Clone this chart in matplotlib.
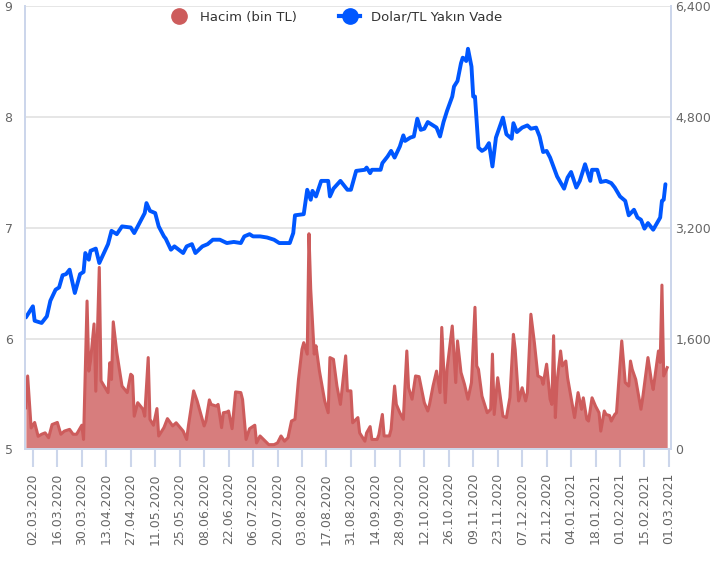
import pandas as pd
import matplotlib
matplotlib.use("Agg")
import matplotlib.pyplot as plt
import matplotlib.dates as mdates
from matplotlib.lines import Line2D
from matplotlib.ticker import FuncFormatter

# Dolar/TL yakin vade (sol eksen)
dolar_tarih = [
    "2020-02-27", "2020-03-02", "2020-03-03", "2020-03-07", "2020-03-10", "2020-03-12", "2020-03-15",
    "2020-03-17", "2020-03-19", "2020-03-21", "2020-03-23", "2020-03-26", "2020-03-29", "2020-03-31",
    "2020-04-01", "2020-04-03", "2020-04-04", "2020-04-07", "2020-04-09", "2020-04-14", "2020-04-16",
    "2020-04-19", "2020-04-22", "2020-04-27", "2020-04-29", "2020-05-05", "2020-05-06", "2020-05-08",
    "2020-05-11", "2020-05-13", "2020-05-16", "2020-05-17", "2020-05-20", "2020-05-22", "2020-05-27",
    "2020-05-29", "2020-06-01", "2020-06-03", "2020-06-07", "2020-06-10", "2020-06-13", "2020-06-17",
    "2020-06-21", "2020-06-25", "2020-06-29", "2020-07-01", "2020-07-04", "2020-07-06", "2020-07-10",
    "2020-07-14", "2020-07-18", "2020-07-21", "2020-07-27", "2020-07-29", "2020-07-30", "2020-08-04",
    "2020-08-06", "2020-08-08", "2020-08-09", "2020-08-11", "2020-08-14", "2020-08-18", "2020-08-19",
    "2020-08-21", "2020-08-25", "2020-08-29", "2020-08-31", "2020-09-03", "2020-09-08", "2020-09-09",
    "2020-09-11", "2020-09-12", "2020-09-17", "2020-09-18", "2020-09-21", "2020-09-23", "2020-09-25",
    "2020-09-28", "2020-09-30", "2020-10-01", "2020-10-04", "2020-10-06", "2020-10-08", "2020-10-10",
    "2020-10-12", "2020-10-14", "2020-10-16", "2020-10-19", "2020-10-21", "2020-10-23", "2020-10-25",
    "2020-10-28", "2020-10-29", "2020-10-31", "2020-11-02", "2020-11-03", "2020-11-04", "2020-11-05",
    "2020-11-06", "2020-11-08", "2020-11-09", "2020-11-10", "2020-11-12", "2020-11-14", "2020-11-16",
    "2020-11-18", "2020-11-20", "2020-11-22", "2020-11-26", "2020-11-28", "2020-12-01", "2020-12-02",
    "2020-12-04", "2020-12-07", "2020-12-10", "2020-12-12", "2020-12-15", "2020-12-17", "2020-12-19",
    "2020-12-21", "2020-12-23", "2020-12-27", "2020-12-31", "2021-01-02", "2021-01-04", "2021-01-07",
    "2021-01-09", "2021-01-12", "2021-01-15", "2021-01-16", "2021-01-19", "2021-01-21", "2021-01-24",
    "2021-01-27", "2021-01-29", "2021-02-01", "2021-02-04", "2021-02-06", "2021-02-09", "2021-02-11",
    "2021-02-13", "2021-02-15", "2021-02-17", "2021-02-20", "2021-02-24", "2021-02-25", "2021-02-26",
    "2021-02-27",
]
dolar = [
    6.19, 6.29, 6.16, 6.14, 6.20, 6.34, 6.44,
    6.46, 6.57, 6.58, 6.62, 6.41, 6.58, 6.60,
    6.77, 6.71, 6.79, 6.81, 6.68, 6.85, 6.97,
    6.94, 7.01, 7.00, 6.95, 7.13, 7.22, 7.15,
    7.13, 7.01, 6.92, 6.90, 6.80, 6.83, 6.77,
    6.83, 6.85, 6.77, 6.83, 6.85, 6.89, 6.89,
    6.86, 6.87, 6.86, 6.92, 6.94, 6.92, 6.92,
    6.91, 6.89, 6.86, 6.86, 6.95, 7.11, 7.12,
    7.34, 7.25, 7.33, 7.28, 7.42, 7.42, 7.28,
    7.35, 7.42, 7.34, 7.34, 7.51, 7.52, 7.54,
    7.49, 7.52, 7.52, 7.58, 7.64, 7.69, 7.63,
    7.73, 7.83, 7.78, 7.81, 7.82, 7.98, 7.88,
    7.89, 7.95, 7.93, 7.90, 7.82, 7.95, 8.05,
    8.18, 8.27, 8.32, 8.48, 8.53, 8.52, 8.50,
    8.61, 8.45, 8.18, 8.18, 7.72, 7.69, 7.71,
    7.76, 7.55, 7.81, 7.99, 7.84, 7.80, 7.94,
    7.86, 7.90, 7.92, 7.89, 7.90, 7.82, 7.68,
    7.69, 7.63, 7.46, 7.35, 7.45, 7.50, 7.36,
    7.42, 7.57, 7.42, 7.52, 7.52, 7.41, 7.42,
    7.40, 7.36, 7.28, 7.24, 7.11, 7.16, 7.09,
    7.07, 6.99, 7.04, 6.98, 7.09, 7.24, 7.25,
    7.39,
]

# Hacim (bin TL) (sag eksen)
hacim_tarih = [
    "2020-02-27", "2020-02-28", "2020-03-01", "2020-03-03", "2020-03-05", "2020-03-07", "2020-03-09",
    "2020-03-11", "2020-03-13", "2020-03-16", "2020-03-18", "2020-03-20", "2020-03-23", "2020-03-25",
    "2020-03-27", "2020-03-30", "2020-03-31", "2020-04-02", "2020-04-03", "2020-04-04", "2020-04-06",
    "2020-04-07", "2020-04-09", "2020-04-10", "2020-04-14", "2020-04-15", "2020-04-16", "2020-04-17",
    "2020-04-19", "2020-04-22", "2020-04-25", "2020-04-27", "2020-04-28", "2020-04-29", "2020-05-01",
    "2020-05-04", "2020-05-05", "2020-05-07", "2020-05-08", "2020-05-10", "2020-05-12", "2020-05-13",
    "2020-05-16", "2020-05-18", "2020-05-21", "2020-05-23", "2020-05-27", "2020-05-29", "2020-05-30",
    "2020-06-02", "2020-06-04", "2020-06-08", "2020-06-09", "2020-06-11", "2020-06-12", "2020-06-15",
    "2020-06-16", "2020-06-18", "2020-06-19", "2020-06-21", "2020-06-22", "2020-06-24", "2020-06-26",
    "2020-06-29", "2020-06-30", "2020-07-02", "2020-07-04", "2020-07-07", "2020-07-08", "2020-07-10",
    "2020-07-13", "2020-07-15", "2020-07-18", "2020-07-20", "2020-07-22", "2020-07-24", "2020-07-26",
    "2020-07-28", "2020-07-30", "2020-08-01", "2020-08-03", "2020-08-04", "2020-08-06", "2020-08-07",
    "2020-08-08", "2020-08-10", "2020-08-11", "2020-08-13", "2020-08-16", "2020-08-18", "2020-08-19",
    "2020-08-21", "2020-08-23", "2020-08-25", "2020-08-28", "2020-08-29", "2020-08-31", "2020-09-01",
    "2020-09-04", "2020-09-05", "2020-09-08", "2020-09-09", "2020-09-11", "2020-09-12", "2020-09-15",
    "2020-09-16", "2020-09-18", "2020-09-19", "2020-09-22", "2020-09-23", "2020-09-25", "2020-09-26",
    "2020-09-28", "2020-09-30", "2020-10-02", "2020-10-03", "2020-10-05", "2020-10-07", "2020-10-09",
    "2020-10-12", "2020-10-14", "2020-10-15", "2020-10-17", "2020-10-19", "2020-10-21", "2020-10-22",
    "2020-10-24", "2020-10-25", "2020-10-28", "2020-10-30", "2020-10-31", "2020-11-02", "2020-11-04",
    "2020-11-06", "2020-11-08", "2020-11-10", "2020-11-11", "2020-11-12", "2020-11-14", "2020-11-17",
    "2020-11-19", "2020-11-20", "2020-11-21", "2020-11-23", "2020-11-26", "2020-11-28", "2020-11-30",
    "2020-12-02", "2020-12-03", "2020-12-05", "2020-12-06", "2020-12-07", "2020-12-09", "2020-12-10",
    "2020-12-12", "2020-12-14", "2020-12-16", "2020-12-18", "2020-12-19", "2020-12-21", "2020-12-23",
    "2020-12-24", "2020-12-25", "2020-12-26", "2020-12-27", "2020-12-29", "2020-12-30", "2021-01-01",
    "2021-01-02", "2021-01-04", "2021-01-06", "2021-01-08", "2021-01-10", "2021-01-11", "2021-01-13",
    "2021-01-14", "2021-01-16", "2021-01-18", "2021-01-20", "2021-01-21", "2021-01-23", "2021-01-24",
    "2021-01-26", "2021-01-27", "2021-01-29", "2021-01-30", "2021-02-02", "2021-02-04", "2021-02-06",
    "2021-02-07", "2021-02-08", "2021-02-10", "2021-02-12", "2021-02-13", "2021-02-14", "2021-02-17",
    "2021-02-19", "2021-02-20", "2021-02-23", "2021-02-24", "2021-02-25", "2021-02-26", "2021-02-28",
]
hacim = [
    600, 1060, 310, 390, 190, 220, 240,
    170, 360, 390, 220, 265, 290, 220,
    220, 350, 145, 2140, 1130, 1280, 1810,
    840, 2625, 990, 820, 1250, 1010, 1840,
    1400, 915, 820, 1085, 1060, 480, 675,
    580, 480, 1325, 435, 350, 590, 195,
    315, 445, 340, 385, 265, 145, 340,
    845, 700, 340, 410, 715, 650, 625,
    650, 315, 530, 540, 555, 300, 830,
    820, 720, 145, 300, 350, 95, 195,
    120, 70, 70, 95, 195, 120, 170,
    410, 435, 1010, 1445, 1540, 1375, 3110,
    2310, 1375, 1495, 1130, 700, 530, 1325,
    1300, 915, 650, 1350, 845, 845, 385,
    460, 240, 120, 240, 330, 145, 145,
    215, 505, 195, 195, 290, 915, 650,
    530, 435, 1420, 890, 725, 1060, 1050,
    675, 555, 650, 915, 1130, 820, 1760,
    675, 1155, 1780, 965, 1565, 1110, 940,
    725, 965, 2050, 1205, 1155, 770, 530,
    580, 1375, 505, 1035, 480, 460, 750,
    1660, 1445, 700, 795, 890, 700, 820,
    1950, 1540, 1060, 1035, 940, 1230, 725,
    650, 1640, 460, 985, 1420, 1205, 1275,
    1035, 745, 460, 820, 580, 745, 435,
    410, 745, 625, 530, 265, 555, 505,
    490, 410, 505, 530, 1565, 965, 915,
    1275, 1155, 1010, 725, 580, 745, 1325,
    985, 865, 1420, 1255, 2370, 1060, 1180,
]

eksen_tarih = pd.date_range("2020-03-02", "2021-03-01", freq="14D")
sol_ticks = [5, 6, 7, 8, 9]
sag_ticks = [0, 1600, 3200, 4800, 6400]

RED = "#cd5c5c"
BLUE = "#0057ff"
AXIS = "#ccd6eb"
GRID = "#e6e6e6"
LABEL = "#666666"

dolar_x = pd.to_datetime(dolar_tarih)
hacim_x = pd.to_datetime(hacim_tarih)

fig = plt.figure(figsize=(7.19, 5.74), dpi=100)
ax = fig.add_axes([0.0348, 0.2169, 0.899, 0.7735])
ax2 = ax.twinx()

# volume area on the base axes (right scale) so the line sits on top
ax.fill_between(hacim_x, hacim, color=RED, alpha=0.8, lw=0)
ax.plot(hacim_x, hacim, color=RED, lw=2.2, solid_joinstyle="round")
ax.set_ylim(0, 6400)
ax.set_yticks(sag_ticks)
ax.yaxis.tick_right()
ax.yaxis.set_major_formatter(FuncFormatter(lambda v, p: f"{v:,.0f}"))
ax.grid(axis="y", color=GRID, lw=1.4)
ax.set_axisbelow(True)

ax2.plot(dolar_x, dolar, color=BLUE, lw=2.8, solid_joinstyle="round", solid_capstyle="round")
ax2.set_ylim(5, 9)
ax2.set_yticks(sol_ticks)
ax2.yaxis.tick_left()

ax.set_xlim(pd.Timestamp("2020-02-26 12:00"), pd.Timestamp("2021-03-02 10:00"))
ax.set_xticks(eksen_tarih)
ax.xaxis.set_major_formatter(mdates.DateFormatter("%d.%m.%Y"))
ax.tick_params(axis="x", length=13, width=1.5, color=AXIS, labelcolor=LABEL,
               labelsize=9, labelrotation=90, pad=4)
ax.tick_params(axis="y", length=0, labelcolor=LABEL, labelsize=9, pad=3)
ax2.tick_params(axis="y", length=0, labelcolor=LABEL, labelsize=9, pad=9)

for a in (ax, ax2):
    a.spines["top"].set_visible(False)
    for s in ("left", "right", "bottom"):
        a.spines[s].set_color(AXIS)
        a.spines[s].set_linewidth(1.3)

handles = [
    Line2D([], [], marker="o", ls="none", color=RED, markersize=11),
    Line2D([], [], marker="o", color=BLUE, lw=3, markersize=11),
]
leg = ax2.legend(handles, ["Hacim (bin TL)", "Dolar/TL Yakın Vade"], loc="upper center",
                 bbox_to_anchor=(0.48, 1.015), ncol=2, frameon=False, fontsize=9.5,
                 handlelength=1.6, handletextpad=0.8, columnspacing=3.2)
for t in leg.get_texts():
    t.set_color("#333333")

fig.savefig("out.png", dpi=100)
